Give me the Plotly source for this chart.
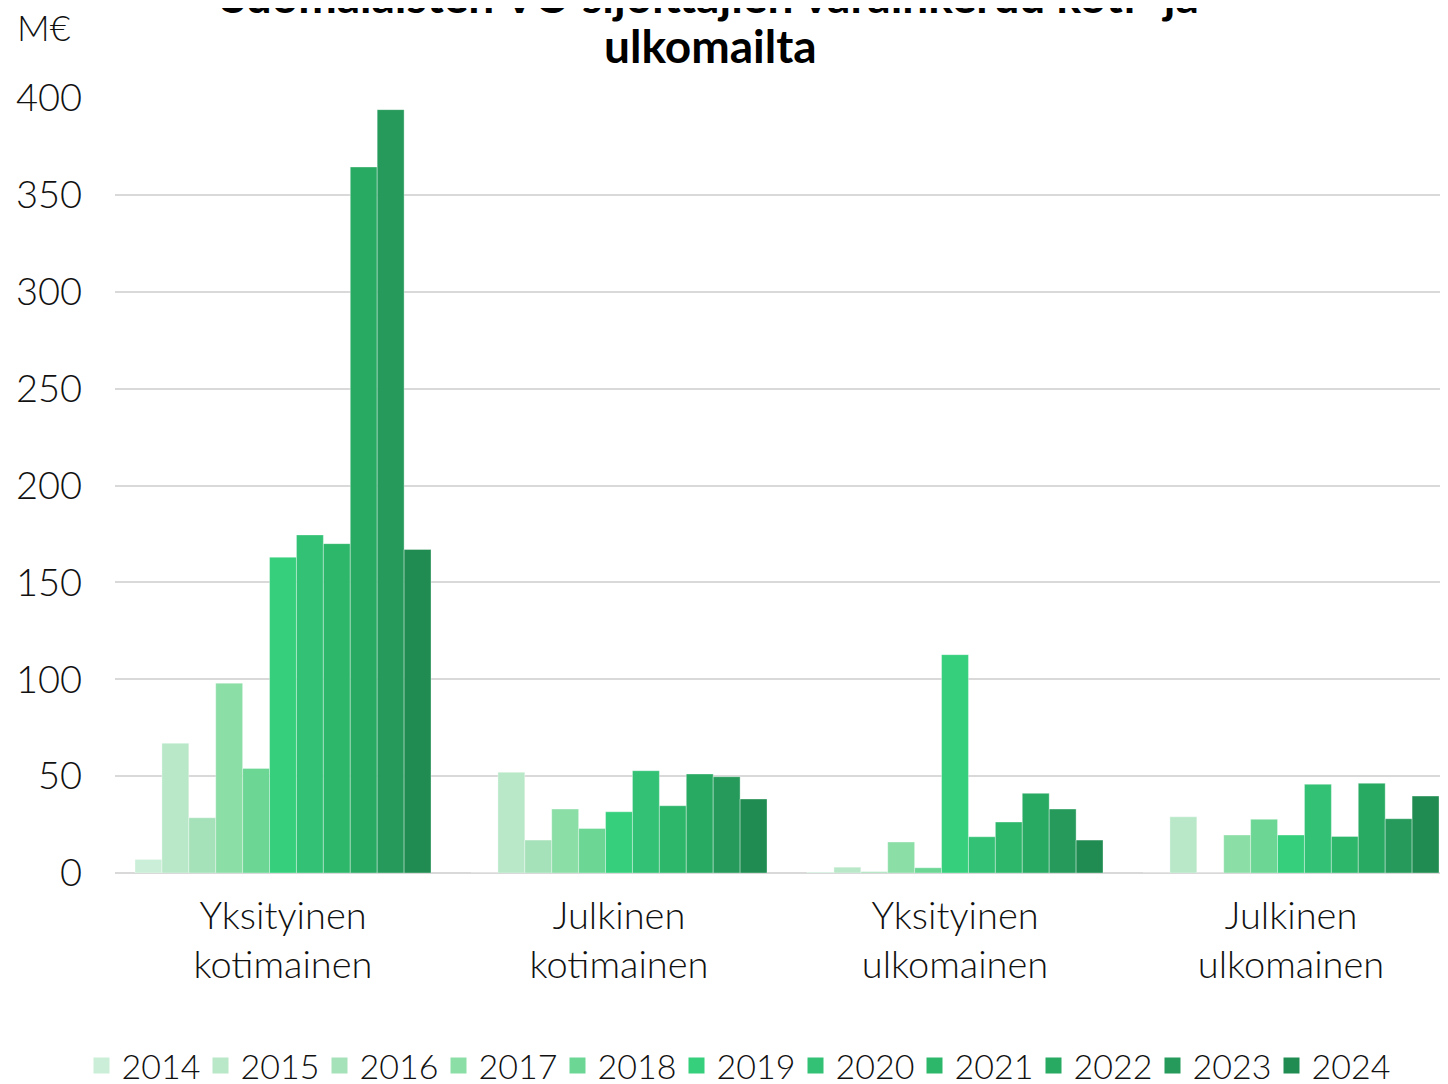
import plotly.graph_objects as go

categories = ["Yksityinen<br>kotimainen", "Julkinen<br>kotimainen", "Yksityinen<br>ulkomainen", "Julkinen<br>ulkomainen"]
years = ["2014", "2015", "2016", "2017", "2018", "2019", "2020", "2021", "2022", "2023", "2024"]
title_line1 = "Suomalaisten VC-sijoittajien varainkeruu koti- ja"
title_line2 = "ulkomailta"
# values per year across the four categories (M€)
v2014 = [7, 0, 0.5, 0]
v2015 = [67, 52, 3, 29]
v2016 = [28.5, 17, 0.7, 0]
v2017 = [98, 33, 16, 19.6]
v2018 = [54, 23, 2.7, 27.7]
v2019 = [163, 31.6, 112.7, 19.6]
v2020 = [174.5, 52.8, 18.7, 45.8]
v2021 = [170, 34.7, 26.3, 18.9]
v2022 = [364.4, 51.1, 41.1, 46.3]
v2023 = [394, 49.7, 33, 28]
v2024 = [167, 38.2, 17, 39.7]
values = [v2014, v2015, v2016, v2017, v2018, v2019, v2020, v2021, v2022, v2023, v2024]
colors = ["#cbeed8", "#b9e8c9", "#a5e2b9", "#8cdea7", "#6cd695", "#36d07d",
          "#33c275", "#2db76b", "#29aa63", "#259a5a", "#208c52"]

FONT = "Lato"
W, H = 1448, 1084
OFF = 8  # page body margin
L = 115 - OFF
T = 98 - OFF
B = H - (873 - OFF)

fig = go.Figure()
xs = list(range(len(categories)))
for yr, vals, col in zip(years, values, colors):
    fig.add_trace(go.Bar(
        x=xs, y=vals, name=yr, showlegend=False,
        marker=dict(color=col, line=dict(color="rgba(255,255,255,0.35)", width=1)),
    ))
# legend entries with square swatches
for yr, col in zip(years, colors):
    fig.add_trace(go.Scatter(
        x=[None], y=[None], mode="markers", name=yr,
        marker=dict(symbol="square", size=19, color=col),
    ))

plot_h = H - T - B
plot_w = W - L

fig.update_layout(
    width=W, height=H,
    margin=dict(l=L, r=0, t=T, b=B, pad=0),
    paper_bgcolor="white", plot_bgcolor="white",
    barmode="group", bargap=0.119, bargroupgap=0,
    font=dict(family=FONT, size=34, color="#111111", weight=300),
    showlegend=True,
    legend=dict(orientation="h", xref="container", yref="container",
                x=(736 - OFF) / W, xanchor="center", y=1 - (1066 - OFF) / H, yanchor="middle",
                font=dict(size=34, family=FONT, weight=300),
                itemsizing="trace", itemwidth=30, traceorder="normal",
                entrywidth=74, tracegroupgap=0),
    xaxis=dict(range=[-0.5, -0.5 + plot_w / 336.0], tickvals=xs, ticktext=categories,
               showgrid=False, showline=False, zeroline=False, ticks="",
               ticklabelstandoff=17, automargin=False,
               tickfont=dict(size=38, family=FONT, weight=300)),
    yaxis=dict(range=[0, 400], tickvals=[0, 50, 100, 150, 200, 250, 300, 350, 400],
               showgrid=True, gridcolor="#d9d9d9", gridwidth=2,
               zeroline=True, zerolinecolor="#d9d9d9", zerolinewidth=2,
               showline=False, ticks="", ticklabelstandoff=32, automargin=False,
               tickfont=dict(size=38, family=FONT, weight=300)),
)

for txt, ycen in [(title_line1, -5), (title_line2, 45)]:
    fig.add_annotation(
        text="<b>" + txt + "</b>",
        xref="paper", yref="paper",
        x=(710 - OFF - L) / plot_w, y=1 + (T - (ycen - OFF)) / plot_h,
        xanchor="center", yanchor="middle", showarrow=False,
        font=dict(size=46, family=FONT, color="#000000", weight=700),
    )
fig.add_annotation(
    text="M€", xref="paper", yref="paper",
    x=(7 - L) / plot_w, y=1 + (T - 19) / plot_h,
    xanchor="left", yanchor="middle", showarrow=False,
    font=dict(size=36, family=FONT, color="#111111", weight=300),
)

fig.write_html("out.html")
